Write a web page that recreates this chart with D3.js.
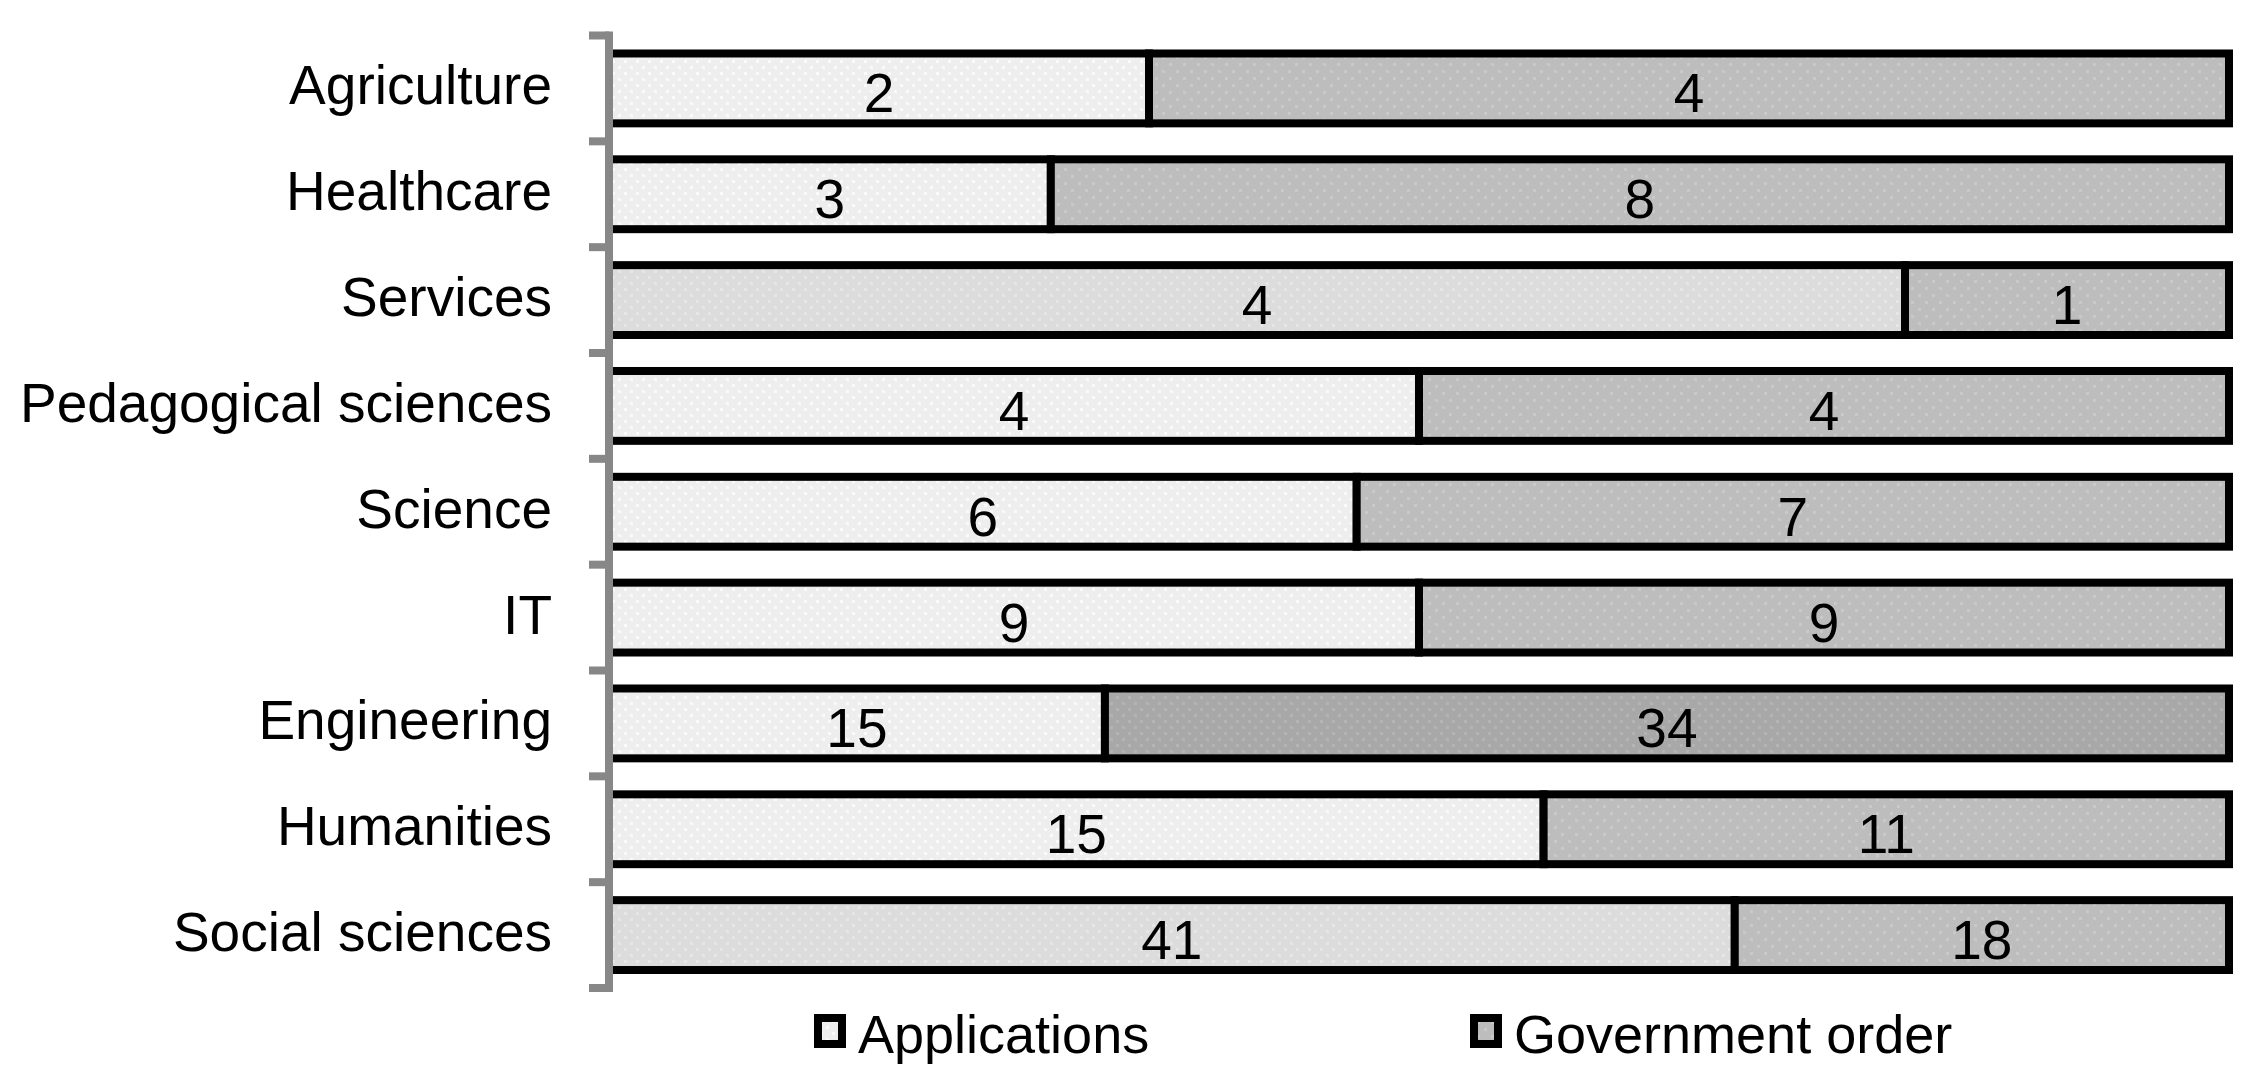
<!DOCTYPE html>
<html>
<head>
<meta charset="utf-8">
<script src="https://cdn.jsdelivr.net/npm/d3@7"></script>
<style>
  body { margin: 0; background: #fff; }
  svg { display: block; font-family: "Liberation Sans", Arial, sans-serif; }
</style>
</head>
<body>
<svg></svg>
<script>
const w = 2254
const h = 1089
const svg = d3.select("svg").attr("width", w).attr("height", h)

// data
const categories = ["Agriculture", "Healthcare", "Services", "Pedagogical sciences", "Science", "IT", "Engineering", "Humanities", "Social sciences"]
const applications = [2, 3, 4, 4, 6, 9, 15, 15, 41]
const governmentOrder = [4, 8, 1, 4, 7, 9, 34, 11, 18]
const seriesNames = ["Applications", "Government order"]

// a few rows in the original have slightly different shading
const lightShade = { default: "lightA", Services: "lightB", "Social sciences": "lightB" }
const darkShade = { default: "darkA", Engineering: "darkB" }

const rows = categories.map((c, i) => ({
    name: c,
    Applications: applications[i],
    "Government order": governmentOrder[i]
}))

const stack = d3.stack().keys(seriesNames).offset(d3.stackOffsetExpand)
const stacked = stack(rows)

const x = d3.scaleLinear().domain([0, 1]).range([609, 2229])
const y = d3.scaleBand().domain(categories).range([35.5, 988])
    .paddingInner(0.34).paddingOuter(0.17)

// dotted fills
const defs = svg.append("defs")
const makePattern = (id, base, dot, size, offset) => {
    const p = defs.append("pattern").attr("id", id)
        .attr("patternUnits", "userSpaceOnUse")
        .attr("width", size).attr("height", size)
    p.append("rect").attr("width", size).attr("height", size).attr("fill", base)
    p.append("rect").attr("x", 0).attr("y", 0).attr("width", 3).attr("height", 3).attr("fill", dot)
    p.append("rect").attr("x", offset).attr("y", offset).attr("width", 3).attr("height", 3).attr("fill", dot)
}
makePattern("lightA", "#eeeeee", "#fafafa", 12, 6)
makePattern("lightB", "#dcdcdc", "#e6e6e6", 12, 6)
makePattern("darkA", "#bdbdbd", "#c9c9c9", 14, 7)
makePattern("darkB", "#a8a8a8", "#b4b4b4", 12, 6)

const fillFor = (key, name) => {
    if (key === "Applications") return `url(#${lightShade[name] || lightShade.default})`
    return `url(#${darkShade[name] || darkShade.default})`
}

const bars = svg.append("g")
stacked.forEach(series => {
    bars.append("g")
        .selectAll("rect")
        .data(series)
        .enter()
        .append("rect")
        .attr("x", d => x(d[0]))
        .attr("y", d => y(d.data.name))
        .attr("width", d => x(d[1]) - x(d[0]))
        .attr("height", y.bandwidth())
        .attr("fill", d => fillFor(series.key, d.data.name))
        .attr("stroke", "#000")
        .attr("stroke-width", 8)
})

// value labels
stacked.forEach(series => {
    svg.append("g")
        .selectAll("text")
        .data(series)
        .enter()
        .append("text")
        .attr("x", d => (x(d[0]) + x(d[1])) / 2)
        .attr("y", d => y(d.data.name) + y.bandwidth() / 2 + 24)
        .attr("text-anchor", "middle")
        .attr("font-size", 55)
        .attr("fill", "#000")
        .text(d => d.data[series.key])
})

// category axis with ticks between bands
const axisX = 609
const axis = svg.append("g")
const step = y.step()
const y0 = y.range()[0]
axis.append("line")
    .attr("x1", axisX).attr("x2", axisX)
    .attr("y1", y0 - 4).attr("y2", y0 + step * categories.length + 4)
    .attr("stroke", "#878787").attr("stroke-width", 8)
axis.selectAll(".tick")
    .data(d3.range(categories.length + 1))
    .enter()
    .append("line")
    .attr("x1", 589).attr("x2", axisX)
    .attr("y1", i => y0 + i * step).attr("y2", i => y0 + i * step)
    .attr("stroke", "#878787").attr("stroke-width", 8)

axis.selectAll(".label")
    .data(categories)
    .enter()
    .append("text")
    .attr("x", 552)
    .attr("y", d => y(d) + y.bandwidth() / 2 + 16)
    .attr("text-anchor", "end")
    .attr("font-size", 55)
    .attr("fill", "#000")
    .text(d => d)

// legend
const legendPos = [814, 1470]
const legend = svg.append("g")
seriesNames.forEach((s, i) => {
    const g = legend.append("g").attr("transform", `translate(${legendPos[i]}, 1014)`)
    g.append("rect")
        .attr("x", 4).attr("y", 4).attr("width", 24).attr("height", 26)
        .attr("fill", i === 0 ? "url(#lightA)" : "url(#darkA)")
        .attr("stroke", "#000").attr("stroke-width", 8)
    g.append("text")
        .attr("x", 44).attr("y", 39)
        .attr("font-size", 54)
        .attr("fill", "#000")
        .text(s)
})
</script>
</body>
</html>
